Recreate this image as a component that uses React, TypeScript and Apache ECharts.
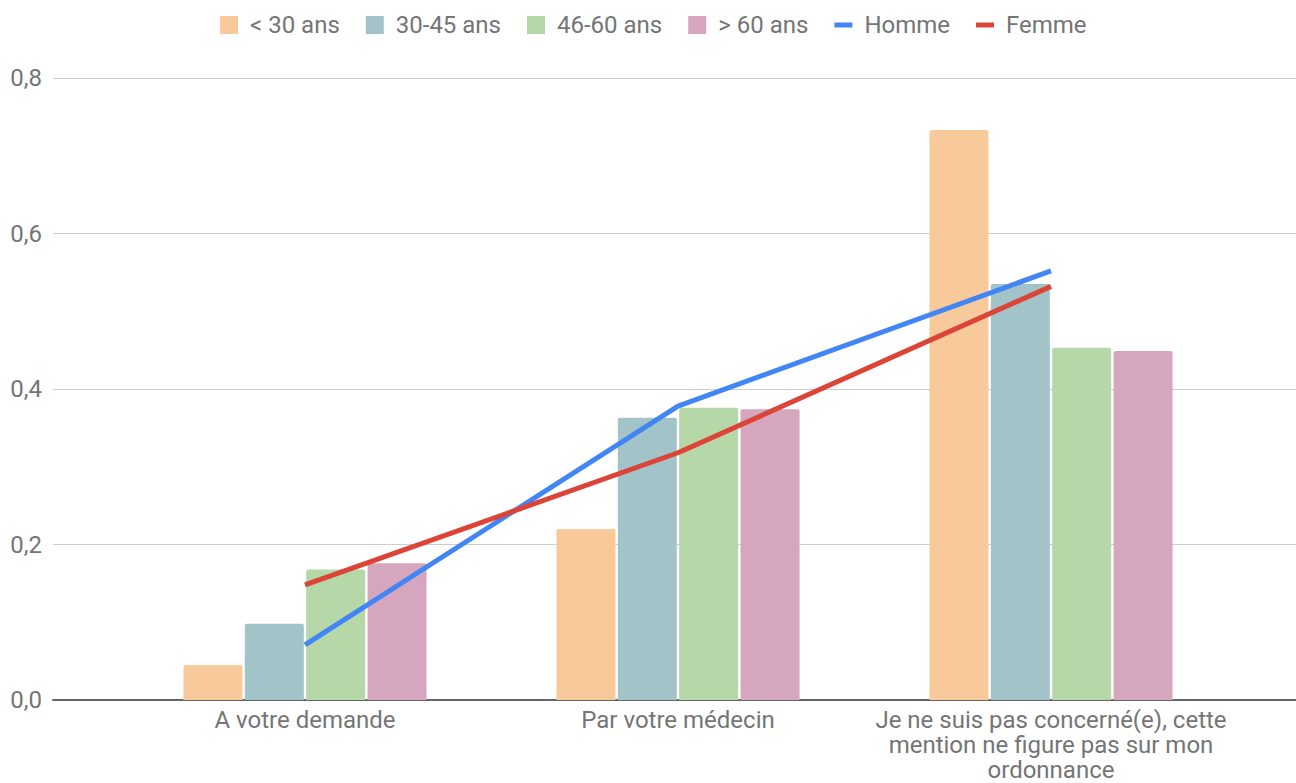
import React, { useEffect, useRef } from "react";
import * as echarts from "echarts";

const categories = [
  "A votre demande",
  "Par votre médecin",
  "Je ne suis pas concerné(e), cette mention ne figure pas sur mon ordonnance",
];
const categoryLabels = [
  "A votre demande",
  "Par votre médecin",
  "Je ne suis pas concerné(e), cette\nmention ne figure pas sur mon\nordonnance",
];
const under30 = [0.045, 0.22, 0.733];
const from30to45 = [0.098, 0.363, 0.535];
const from46to60 = [0.168, 0.376, 0.453];
const over60 = [0.176, 0.374, 0.449];
const homme = [0.071, 0.378, 0.552];
const femme = [0.148, 0.318, 0.532];
const yTicks = [0, 0.2, 0.4, 0.6, 0.8];

const TEXT = "#757575";
const FONT = "Roboto";
const LINE_ICON = "path://M0 0H18V5H0Z";

export default function App() {
  const ref = useRef<HTMLDivElement>(null);
  useEffect(() => {
    if (!ref.current) return;
    const chart = echarts.init(ref.current, undefined, { renderer: "svg" });
    const bar = (name: string, data: number[], color: string) => ({
      name,
      type: "bar",
      xAxisIndex: 0,
      yAxisIndex: 0,
      data,
      barWidth: 59,
      barGap: "4%",
      itemStyle: { color, borderRadius: [2, 2, 0, 0] },
    });
    const line = (name: string, data: number[], color: string) => ({
      name,
      type: "line",
      xAxisIndex: 0,
      yAxisIndex: 0,
      data,
      symbol: "none",
      z: 5,
      lineStyle: { color, width: 5 },
      itemStyle: { color },
    });
    chart.setOption({
      animation: false,
      backgroundColor: "#ffffff",
      textStyle: { fontFamily: FONT },
      legend: {
        top: 8,
        left: 215,
        itemWidth: 18,
        itemHeight: 18,
        itemGap: 26,
        symbolKeepAspect: true,
        textStyle: {
          color: TEXT,
          fontSize: 24,
          fontFamily: FONT,
          padding: [0, 0, 0, 7],
        },
        data: [
          { name: "< 30 ans", icon: "rect" },
          { name: "30-45 ans", icon: "rect" },
          { name: "46-60 ans", icon: "rect" },
          { name: "> 60 ans", icon: "rect" },
          { name: "Homme", icon: LINE_ICON },
          { name: "Femme", icon: LINE_ICON },
        ],
      },
      grid: [
        { left: 118.5, right: 58.5, top: 78, bottom: 83 },
        { left: 53, right: 0, top: 78, bottom: 83 },
      ],
      xAxis: [
        {
          type: "category",
          gridIndex: 0,
          data: categories,
          axisLine: { show: false },
          axisTick: { show: false },
          axisLabel: {
            color: TEXT,
            fontSize: 24,
            fontFamily: FONT,
            margin: 7,
            lineHeight: 25,
            interval: 0,
            formatter: (_v: string, i: number) => categoryLabels[i],
          },
        },
        {
          type: "value",
          gridIndex: 1,
          min: 0,
          max: 1,
          axisLine: { show: true, lineStyle: { color: "#666666", width: 2 } },
          axisTick: { show: false },
          axisLabel: { show: false },
          splitLine: { show: false },
        },
      ],
      yAxis: [
        {
          type: "value",
          gridIndex: 0,
          min: 0,
          max: 0.8,
          interval: 0.2,
          show: false,
          splitLine: { show: false },
        },
        {
          type: "value",
          gridIndex: 1,
          min: yTicks[0],
          max: yTicks[yTicks.length - 1],
          interval: 0.2,
          axisLine: { show: false },
          axisTick: { show: false },
          axisLabel: {
            color: TEXT,
            fontSize: 24,
            fontFamily: FONT,
            margin: 11,
            formatter: (v: number) => v.toFixed(1).replace(".", ","),
          },
          splitLine: { lineStyle: { color: "#cccccc", width: 1 } },
        },
      ],
      series: [
        bar("< 30 ans", under30, "#f7c99b"),
        bar("30-45 ans", from30to45, "#a2c4c9"),
        bar("46-60 ans", from46to60, "#b6d7a8"),
        bar("> 60 ans", over60, "#d5a6bd"),
        line("Homme", homme, "#4285f4"),
        line("Femme", femme, "#db4437"),
      ],
    });
    return () => chart.dispose();
  }, []);
  return (
    <div
      ref={ref}
      style={{ position: "absolute", left: 0, top: 0, width: 1296, height: 783 }}
    />
  );
}
